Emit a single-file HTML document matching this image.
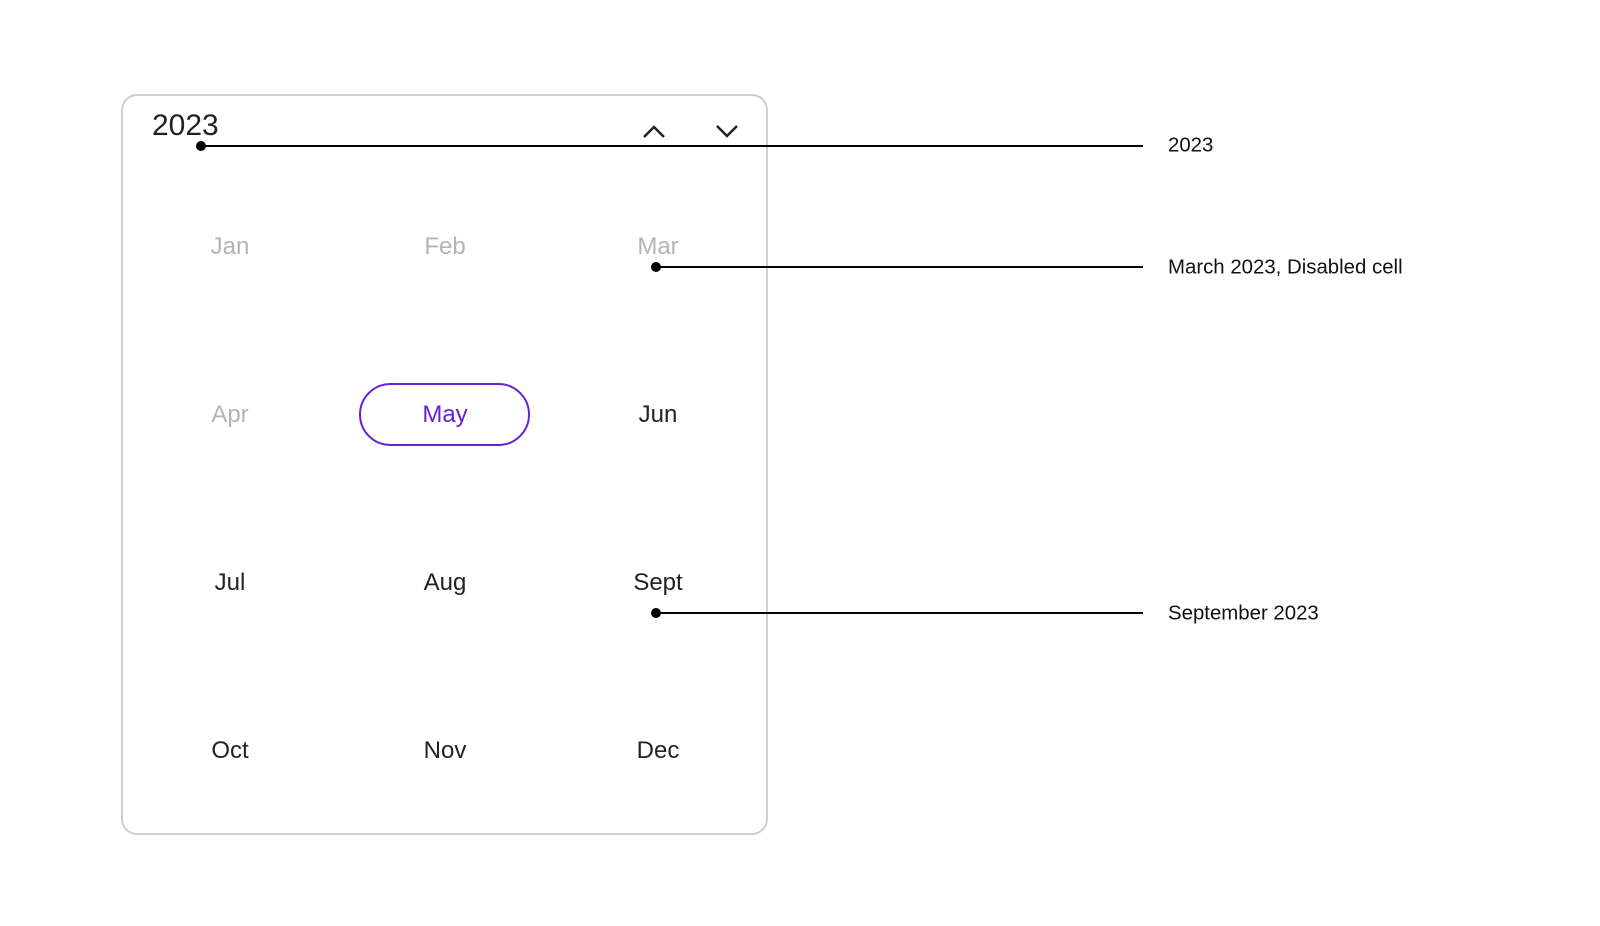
<!DOCTYPE html>
<html><head><meta charset="utf-8"><style>
body{margin:0;width:1600px;height:926px;background:#fff;position:relative;overflow:hidden;font-family:"Liberation Sans",sans-serif}
.card{position:absolute;left:121px;top:94px;width:647px;height:741px;border:2px solid #cfcfcf;border-radius:16px;box-sizing:border-box}
.t{position:absolute;transform:translate(-50%,-50%);font-size:24px;color:#222;white-space:nowrap}
.d{color:#b4b4b4}
.lab{position:absolute;left:1168px;font-size:20.4px;color:#111;transform:translateY(-50%);white-space:nowrap}
.pill{position:absolute;left:359px;top:383px;width:171px;height:63px;border:2px solid #6a1fd1;border-radius:32px;box-sizing:border-box}
</style></head><body>
<div class="card"></div>
<div style="position:absolute;left:152px;top:109px;font-size:30px;color:#222">2023</div>
<svg style="position:absolute;left:0;top:0" width="1600" height="926">
<polyline points="644,137 654,127 664,137" fill="none" stroke="#222" stroke-width="2.5"/>
<polyline points="717,126 727,136 737,126" fill="none" stroke="#222" stroke-width="2.5"/>
<line x1="201" y1="146" x2="1143" y2="146" stroke="#000" stroke-width="2"/>
<circle cx="201" cy="146" r="5" fill="#000"/>
<line x1="656" y1="267" x2="1143" y2="267" stroke="#000" stroke-width="2"/>
<circle cx="656" cy="267" r="5" fill="#000"/>
<line x1="656" y1="613" x2="1143" y2="613" stroke="#000" stroke-width="2"/>
<circle cx="656" cy="613" r="5" fill="#000"/>
</svg>
<div class="pill"></div>
<div class="t d" style="left:230px;top:247px">Jan</div>
<div class="t d" style="left:445px;top:247px">Feb</div>
<div class="t d" style="left:658px;top:247px">Mar</div>
<div class="t d" style="left:230px;top:415px">Apr</div>
<div class="t" style="left:445px;top:415px;color:#6a1fd1">May</div>
<div class="t" style="left:658px;top:415px">Jun</div>
<div class="t" style="left:230px;top:583px">Jul</div>
<div class="t" style="left:445px;top:583px">Aug</div>
<div class="t" style="left:658px;top:583px">Sept</div>
<div class="t" style="left:230px;top:751px">Oct</div>
<div class="t" style="left:445px;top:751px">Nov</div>
<div class="t" style="left:658px;top:751px">Dec</div>
<div class="lab" style="top:146px">2023</div>
<div class="lab" style="top:268px">March 2023, Disabled cell</div>
<div class="lab" style="top:614px">September 2023</div>
</body></html>
